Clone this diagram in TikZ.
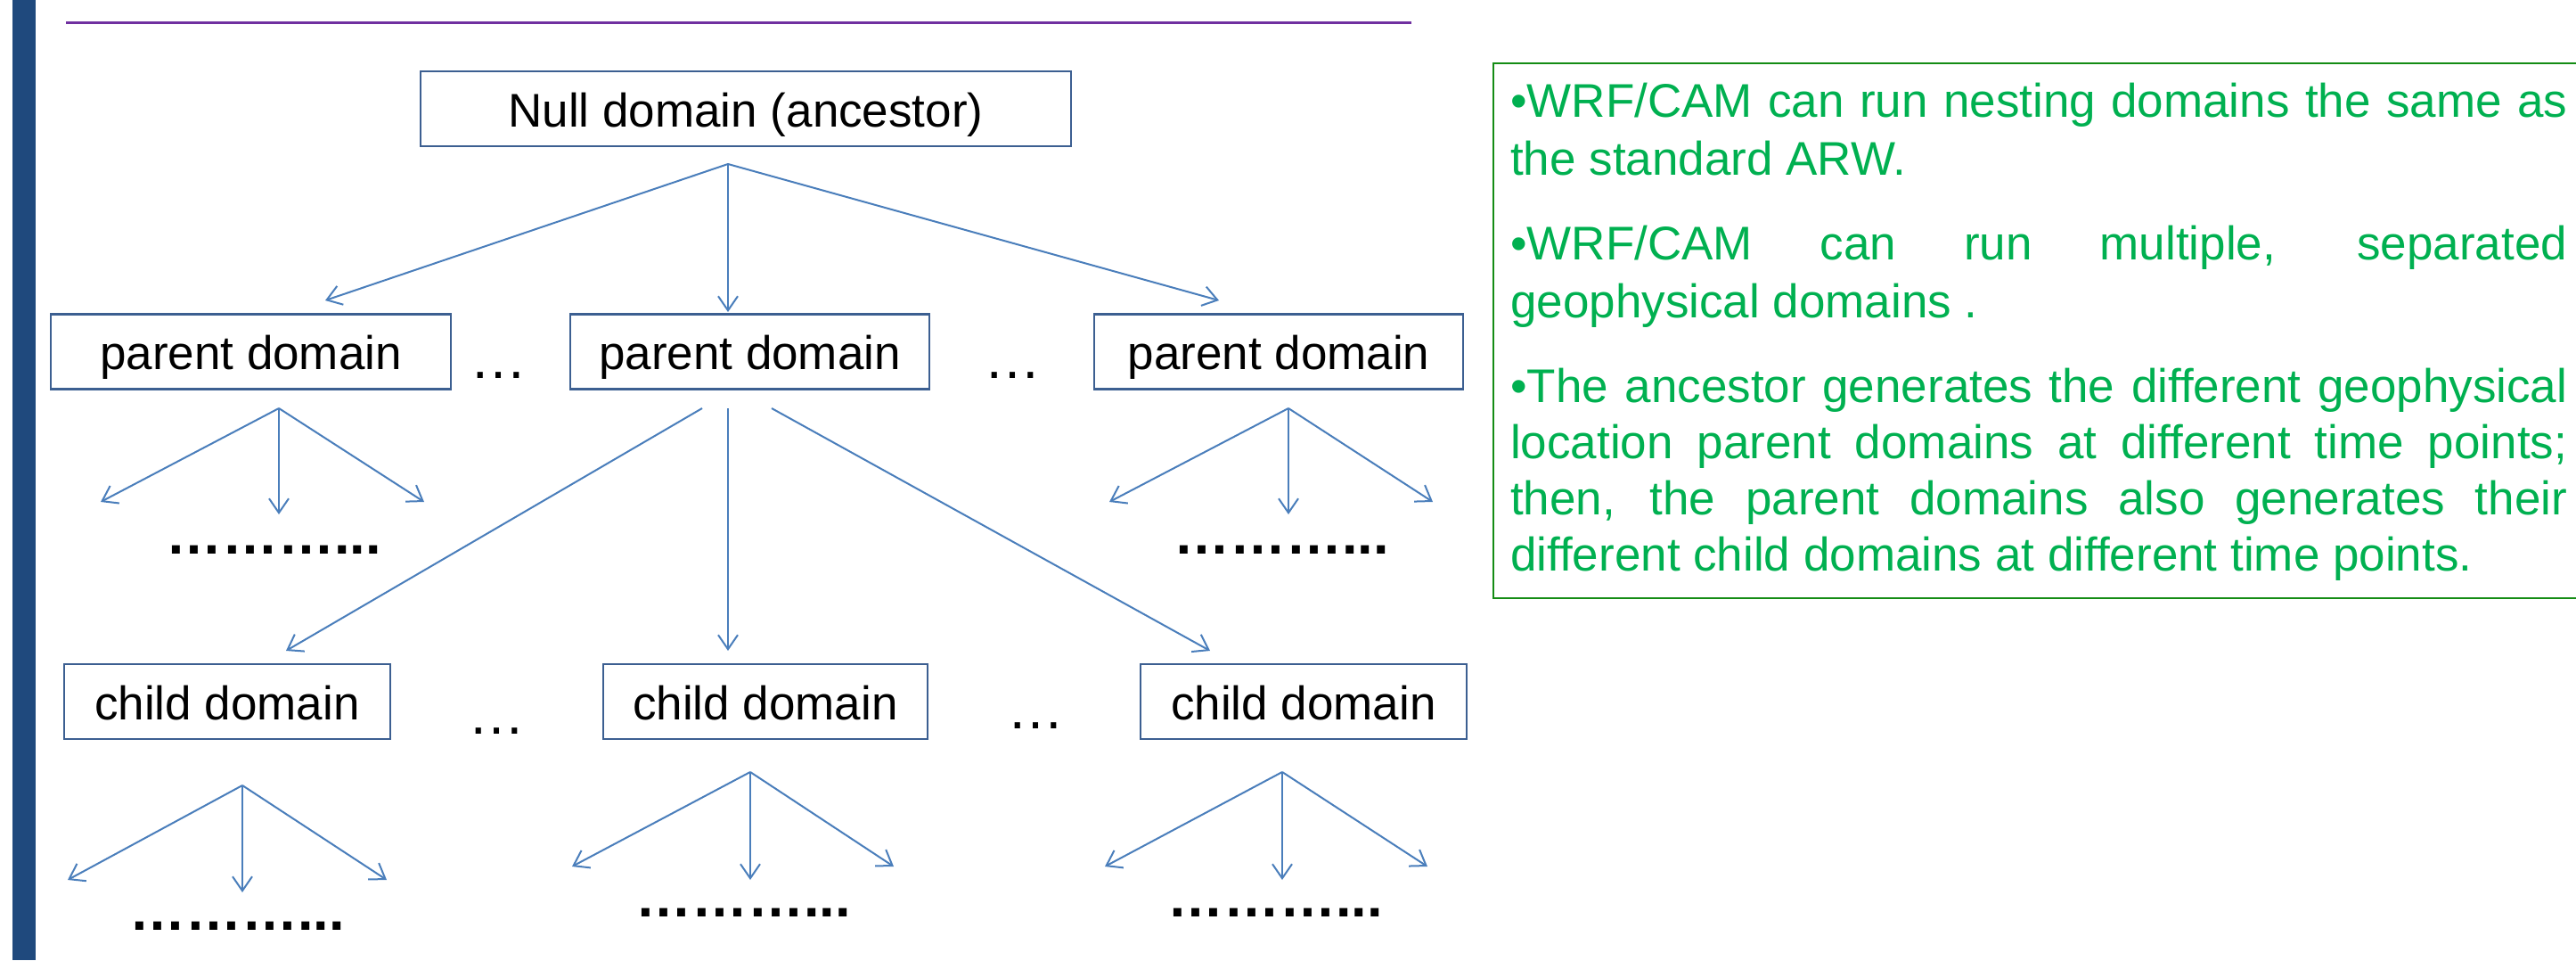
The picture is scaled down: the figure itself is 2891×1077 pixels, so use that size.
\documentclass[tikz,border=0pt]{standalone}
\usepackage{fontspec}
\setmainfont{Liberation Sans}
\usetikzlibrary{arrows.meta}
\definecolor{barblue}{RGB}{31,73,125}
\definecolor{linepurple}{RGB}{112,48,160}
\definecolor{boxblue}{RGB}{60,95,145}
\definecolor{arrblue}{RGB}{74,126,187}
\definecolor{txtgreen}{RGB}{0,176,80}
\definecolor{boxgreen}{RGB}{20,140,20}
\tikzset{
  dom/.style={draw=boxblue, line width=2.5pt, fill=white, minimum height=84pt, inner sep=0pt,
    font=\fontsize{53}{60}\selectfont, text height=42pt, text depth=2pt},
  arr/.style={draw=arrblue, line width=2pt, -{Straight Barb[length=16pt,width=22pt,line width=2pt]}},
  fewdots/.style={font=\fontsize{63}{70}\selectfont\bfseries, inner sep=0pt, anchor=base west},
  ell/.style={font=\fontsize{64}{70}\selectfont, inner sep=0pt, anchor=base west},
  gline/.style={font=\fontsize{53}{64}\selectfont, text=txtgreen, inner sep=0pt, anchor=base west},
}
\newcommand{\jline}[1]{\makebox[1186pt][s]{#1}}
\begin{document}
\begin{tikzpicture}[x=1pt,y=-1pt]
\useasboundingbox (0,0) rectangle (2891,1077);
% decorations
\fill[barblue] (14,0) rectangle (40,1077);
\draw[linepurple, line width=3pt] (74,25) -- (1584,25);
% green text box (right side runs off the picture)
\draw[boxgreen, line width=2.5pt] (2895,71) -- (1676,71) -- (1676,671) -- (2895,671);
\node[gline] (t1) at (1695,131) {\jline{•WRF/CAM can run nesting domains the same as}};
\node[gline] (t2) at (1695,196) {the standard ARW.};
\node[gline] (t3) at (1695,291) {\jline{•WRF/CAM can run multiple, separated}};
\node[gline] (t4) at (1695,356) {geophysical domains .};
\node[gline] (t5) at (1695,451) {\jline{•The ancestor generates the different geophysical}};
\node[gline] (t6) at (1695,514) {\jline{location parent domains at different time points;}};
\node[gline] (t7) at (1695,577) {\jline{then, the parent domains also generates their}};
\node[gline] (t8) at (1695,640) {different child domains at different time points.};
% boxes
\node[dom, minimum width=730pt] (null) at (837,122) {Null domain (ancestor)};
\node[dom, minimum width=449pt] (p1) at (281.5,394.5) {parent domain};
\node[dom, minimum width=403pt] (p2) at (841.5,394.5) {parent domain};
\node[dom, minimum width=414pt] (p3) at (1435,394.5) {parent domain};
\node[dom, minimum width=366pt] (c1) at (255,787) {child domain};
\node[dom, minimum width=364pt] (c2) at (859,787) {child domain};
\node[dom, minimum width=366pt] (c3) at (1463,787) {child domain};
% ellipses between boxes
\node[ell] (e1) at (527,424) {…};
\node[ell] (e2) at (1104,424) {…};
\node[ell] (e3) at (525,823) {…};
\node[ell] (e4) at (1130,817) {…};
% dotted rows
\node[fewdots] (d1) at (186,621) {………...};
\node[fewdots] (d2) at (1317,621) {………...};
\node[fewdots] (d3) at (145,1043) {………...};
\node[fewdots] (d4) at (713,1028) {………...};
\node[fewdots] (d5) at (1310,1028) {………...};
% connector coordinates
\coordinate (n-o) at (817,184);
\coordinate (p1-i) at (365,337);
\coordinate (p2-i) at (817,350);
\coordinate (p3-i) at (1368,337);
\coordinate (p1-o) at (313,458);
\coordinate (p1-l) at (113,563);
\coordinate (p1-m) at (313,577);
\coordinate (p1-r) at (476,563);
\coordinate (p2-ol) at (788,458);
\coordinate (p2-om) at (817,458);
\coordinate (p2-or) at (866,458);
\coordinate (c1-i) at (321,730);
\coordinate (c2-i) at (817,730);
\coordinate (c3-i) at (1358,730);
\coordinate (p3-o) at (1446,458);
\coordinate (p3-l) at (1245,563);
\coordinate (p3-m) at (1446,577);
\coordinate (p3-r) at (1608,563);
\coordinate (c1-o) at (272,881);
\coordinate (c1-l) at (76,987);
\coordinate (c1-m) at (272,1001);
\coordinate (c1-r) at (434,987);
\coordinate (c2-o) at (842,866);
\coordinate (c2-l) at (642,972);
\coordinate (c2-m) at (842,987);
\coordinate (c2-r) at (1003,972);
\coordinate (c3-o) at (1439,866);
\coordinate (c3-l) at (1240,972);
\coordinate (c3-m) at (1439,987);
\coordinate (c3-r) at (1602,972);
% connectors
\draw[arr] (n-o) -- (p1-i);
\draw[arr] (n-o) -- (p2-i);
\draw[arr] (n-o) -- (p3-i);
\draw[arr] (p1-o) -- (p1-l);
\draw[arr] (p1-o) -- (p1-m);
\draw[arr] (p1-o) -- (p1-r);
\draw[arr] (p2-ol) -- (c1-i);
\draw[arr] (p2-om) -- (c2-i);
\draw[arr] (p2-or) -- (c3-i);
\draw[arr] (p3-o) -- (p3-l);
\draw[arr] (p3-o) -- (p3-m);
\draw[arr] (p3-o) -- (p3-r);
\draw[arr] (c1-o) -- (c1-l);
\draw[arr] (c1-o) -- (c1-m);
\draw[arr] (c1-o) -- (c1-r);
\draw[arr] (c2-o) -- (c2-l);
\draw[arr] (c2-o) -- (c2-m);
\draw[arr] (c2-o) -- (c2-r);
\draw[arr] (c3-o) -- (c3-l);
\draw[arr] (c3-o) -- (c3-m);
\draw[arr] (c3-o) -- (c3-r);
\end{tikzpicture}
\end{document}
